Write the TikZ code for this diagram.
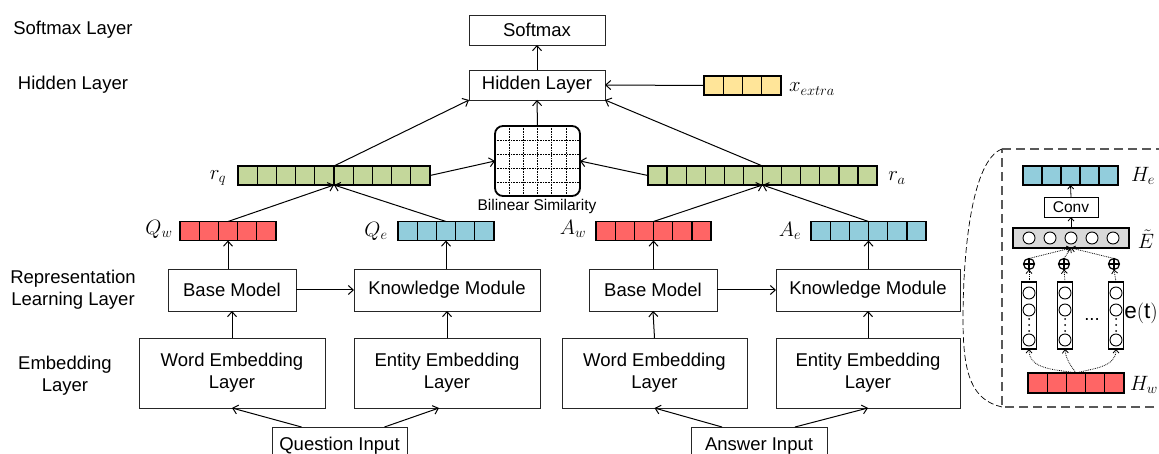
\documentclass[tikz,border=0pt]{standalone}
\usepackage{fontspec}
\setmainfont{Liberation Sans}
\usetikzlibrary{arrows.meta,calc}
\definecolor{cgreen}{RGB}{196,215,155}
\definecolor{cred}{RGB}{255,101,101}
\definecolor{cblue}{RGB}{146,205,220}
\definecolor{cyellow}{RGB}{255,229,153}
\definecolor{cgray}{RGB}{217,217,217}
\newcommand{\mainsz}{\fontsize{18.5}{22}\selectfont}
\newcommand{\smallsz}{\fontsize{15.5}{18}\selectfont}
\newcommand{\mathsz}{\fontsize{22.5}{26}\selectfont}
\newcommand{\cellbar}[6]{%
  \node[barnode, fill=#6, minimum width=#3*#4pt, minimum height=#5pt] (#1) at #2 {};
  \pgfmathtruncatemacro{\barcount}{#3-1}
  \foreach \k in {1,...,\barcount} \draw[barline] ($(#1.south west)+(\k*#4,0)$) -- ($(#1.north west)+(\k*#4,0)$);
}
\tikzset{
  box/.style={draw=black!85, line width=0.9pt, fill=white, inner sep=0pt, outer sep=0pt, font=\mainsz, align=center},
  lbl/.style={font=\mainsz, align=center, inner sep=0pt},
  mlbl/.style={font=\mathsz, inner sep=0pt},
  barnode/.style={draw=black, line width=1.6pt, inner sep=0pt, outer sep=0pt},
  barline/.style={draw=black, line width=1.2pt},
  arr/.style={-{Straight Barb[length=5pt,width=9pt]}, line width=1pt},
  plain/.style={line width=1pt},
  dotarr/.style={-{Straight Barb[length=3.5pt,width=6pt]}, densely dotted, line width=0.8pt},
  crc/.style={circle, draw=black, line width=0.9pt, minimum size=12pt, inner sep=0pt, fill=white},
}
\begin{document}
\begin{tikzpicture}[x=1pt,y=-1pt]
\useasboundingbox (0,0) rectangle (1159,454);

% left layer labels
\node[lbl] (l1) at (73,30) {Softmax Layer};
\node[lbl] (l2) at (73,85) {Hidden Layer};
\node[lbl] (l3) at (73,290) {Representation\\Learning Layer};
\node[lbl] (l4) at (65,376) {Embedding\\Layer};

% top boxes
\node[box, minimum width=136pt, minimum height=30pt] (soft) at (537,30) {Softmax};
\node[box, minimum width=136pt, minimum height=30pt] (hid) at (537,85) {Hidden Layer};

% x_extra
\cellbar{xex}{(742.5,85.5)}{4}{19.25}{19}{cyellow}
\node[mlbl] (xexl) at (812,89) {$x_{extra}$};

% bilinear
\node[draw=black, line width=1.8pt, rounded corners=8pt, minimum width=85pt, minimum height=70pt, inner sep=0pt, outer sep=0pt, fill=white] (bil) at (537.5,161) {};
\foreach \g in {1,...,5} \draw[densely dotted, line width=0.6pt] ($(bil.north west)+(\g*14.17,0)$) -- ($(bil.south west)+(\g*14.17,0)$);
\foreach \g in {1,...,4} \draw[densely dotted, line width=0.6pt] ($(bil.north west)+(0,\g*14)$) -- ($(bil.north east)+(0,\g*14)$);
\node[font=\smallsz, inner sep=0pt] (bill) at (537,206) {Bilinear Similarity};

% r bars
\cellbar{rq}{(334,175.5)}{10}{19.2}{19}{cgreen}
\node[mlbl] (rql) at (218,178) {$r_q$};
\cellbar{ra}{(762.5,175.5)}{12}{19.1}{19}{cgreen}
\node[mlbl] (ral) at (897,178) {$r_a$};

% Q/A bars
\cellbar{qw}{(228,231)}{5}{19.2}{19}{cred}
\node[mlbl] (qwl) at (159,229) {$Q_w$};
\cellbar{qe}{(446,231)}{5}{19.2}{19}{cblue}
\node[mlbl] (qel) at (376,231) {$Q_e$};
\cellbar{aw}{(653.5,231)}{6}{19.2}{19}{cred}
\node[mlbl] (awl) at (573,229) {$A_w$};
\cellbar{ae}{(868.5,231)}{6}{19.2}{19}{cblue}
\node[mlbl] (ael) at (790,231) {$A_e$};

% representation boxes
\node[box, minimum width=128pt, minimum height=42pt] (bm1) at (232,290) {Base Model};
\node[box, minimum width=186pt, minimum height=42pt] (km1) at (447,290) {Knowledge Module};
\node[box, minimum width=128pt, minimum height=42pt] (bm2) at (653,290) {Base Model};
\node[box, minimum width=184pt, minimum height=42pt] (km2) at (868,290) {Knowledge Module};

% embedding boxes
\node[box, minimum width=186pt, minimum height=70pt] (we1) at (232,373) {Word Embedding\\Layer};
\node[box, minimum width=186pt, minimum height=70pt] (ee1) at (447,373) {Entity Embedding\\Layer};
\node[box, minimum width=185pt, minimum height=70pt] (we2) at (654.5,373) {Word Embedding\\Layer};
\node[box, minimum width=184pt, minimum height=70pt] (ee2) at (868,373) {Entity Embedding\\Layer};

% inputs
\node[box, minimum width=135pt, minimum height=32pt, text depth=0pt] (qi) at (339.5,443) {\raisebox{-2pt}{Question Input}};
\node[box, minimum width=136pt, minimum height=32pt, text depth=0pt] (ai) at (759,443) {\raisebox{-2pt}{Answer Input}};

% connectors
\draw[arr] (hid) -- (soft);
\draw[arr] (xex.west) -- (hid.east);
\draw[arr] (bil.north) -- (hid.south);
\draw[arr] (rq.north) -- (hid.south west);
\draw[arr] (ra.north) -- (hid.south east);
\draw[arr] (rq.east) -- (bil.west);
\draw[arr] (ra.west) -- (bil.east);
\draw[arr] (qw.north) -- (rq.south);
\draw[arr] (qe.north) -- (rq.south);
\draw[arr] (aw.north) -- (ra.south);
\draw[arr] (ae.north) -- (ra.south);
\draw[arr] (bm1.north -| qw.south) -- (qw.south);
\draw[arr] (km1.north -| qe.south) -- (qe.south);
\draw[arr] (bm2.north -| aw.south) -- (aw.south);
\draw[arr] (km2.north -| ae.south) -- (ae.south);
\draw[arr] (bm1.east) -- (km1.west);
\draw[arr] (bm2.east) -- (km2.west);
\draw[arr] (we1.north) -- (bm1.south);
\draw[arr] (ee1.north) -- (km1.south);
\draw[arr] (we2.north) -- (bm2.south);
\draw[arr] (ee2.north) -- (km2.south);
\draw[arr] ([xshift=-38pt]qi.north) -- (we1.south);
\draw[arr] ([xshift=45pt]qi.north) -- ([xshift=-8pt]ee1.south);
\draw[arr] ([xshift=-37pt]ai.north) -- (we2.south);
\draw[arr] ([xshift=36pt]ai.north) -- (ee2.south);

% right panel
\coordinate (pt) at (1002,149);
\coordinate (pb) at (1002,407);
\draw[dash pattern=on 9pt off 5pt, draw=black!65, line width=1.3pt] (pt) -- (1180,149) -- (1180,407) -- (pb) -- cycle;
\draw[dash pattern=on 6pt off 3pt, line width=0.7pt] (pt) .. controls (972,160) and (963,250) .. (963,320) .. controls (963,375) and (972,400) .. (pb);

\cellbar{he}{(1070.5,175.5)}{5}{19}{19}{cblue}
\node[mlbl] (hel) at (1143,176) {$H_e$};
\node[draw=black, line width=0.8pt, minimum width=54pt, minimum height=20pt, inner sep=0pt, outer sep=0pt, font=\smallsz] (conv) at (1071,207) {Conv};
\node[draw=black, line width=1.8pt, fill=cgray, minimum width=116pt, minimum height=20pt, inner sep=0pt, outer sep=0pt] (et) at (1071,238) {};
\foreach \cx [count=\ci] in {1029,1050,1071,1092,1113} \node[crc] (ec\ci) at (\cx,238) {};
\node[mlbl] (etl) at (1146,239) {$\tilde{E}$};
\draw[arr, -{Straight Barb[length=3.5pt,width=6pt]}, line width=0.8pt] (et.north) -- (conv.south);
\draw[arr, -{Straight Barb[length=3.5pt,width=6pt]}, line width=0.8pt] (conv.north) -- (he.south);

% plus circles
\foreach \px [count=\pi] in {1029,1064,1114} {
  \node[circle, draw=black, line width=1.2pt, minimum size=11pt, inner sep=0pt, outer sep=0pt] (op\pi) at (\px,264) {};
  \draw[line width=1.2pt] (op\pi.north) -- (op\pi.south);
  \draw[line width=1.2pt] (op\pi.west) -- (op\pi.east);
}
% columns
\foreach \cx [count=\ci] in {1029,1065,1116} {
  \node[draw=black, line width=1.8pt, fill=white, minimum width=15pt, minimum height=67pt, inner sep=0pt, outer sep=0pt] (col\ci) at (\cx,315.5) {};
  \node[crc, minimum size=12pt] (ca\ci) at (\cx,293) {};
  \node[crc, minimum size=12pt] (cb\ci) at (\cx,310) {};
  \node[crc, minimum size=12pt] (cc\ci) at (\cx,340) {};
  \foreach \dy in {319,325,331} \fill (\cx,\dy) circle (1pt);
  \draw[dotarr] (col\ci.north) -- (op\ci.south);
  \draw[dotarr] (op\ci.north) -- (et.south);
}
\node[font=\mainsz, inner sep=0pt] (dots) at (1092,320) {...};
\node[mlbl] (etlab) at (1141,313) {$\mathrm{e(t)}$};

\cellbar{hw}{(1076,383)}{5}{19.2}{20}{cred}
\node[mlbl] (hwl) at (1144,385) {$H_w$};
\draw[dotarr] (hw.north) to[out=170,in=-90] (col1.south);
\draw[dotarr] (hw.north) to[out=125,in=-85] (col2.south);
\draw[dotarr] (hw.north) to[out=15,in=-90] (col3.south);
\end{tikzpicture}
\end{document}
